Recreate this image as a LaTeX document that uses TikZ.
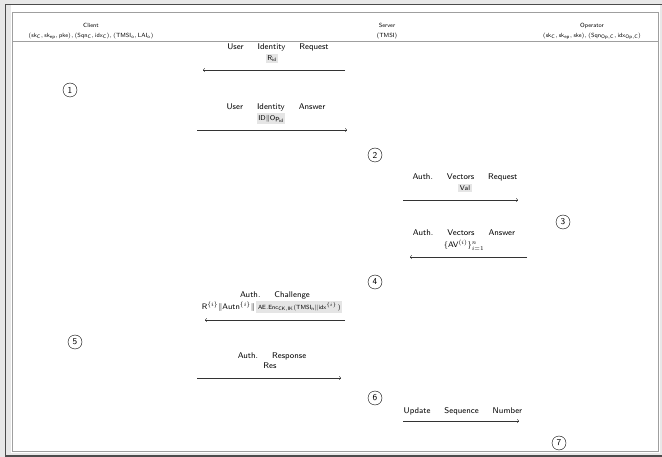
\documentclass[tikz,border=0pt]{standalone}
\usepackage{amsmath}
\begin{document}
\begin{tikzpicture}[x=1pt,y=-1pt,
  hdr/.style={font=\fontsize{6}{7}\selectfont\sffamily, inner sep=0pt, anchor=mid},
  lbl/.style={font=\fontsize{8.3}{10}\selectfont\sffamily, inner sep=0pt, anchor=mid},
  val/.style={font=\fontsize{7}{8}\selectfont\sffamily, fill=gray!20, inner sep=1.6pt, anchor=mid},
  stepno/.style={draw, circle, thin, inner sep=0.6pt, minimum size=14pt, font=\fontsize{9}{10}\selectfont\sffamily},
  msg/.style={->, >=to, line width=0.45pt, black!80}
]
\useasboundingbox (0,0) rectangle (662,457);
% window backdrop and frames
\fill[gray!18] (0,0) rectangle (662,457);
\fill[white] (11,5) rectangle (660,453);
\draw[gray!60!black, line width=1.5pt] (5.5,457) -- (5.5,4.5) -- (662,4.5);
\draw[gray!60!black, line width=1.5pt] (5,455.8) -- (662,455.8);
\draw[gray!75, line width=0.8pt] (12,12) rectangle (658,451);
\draw[gray!75, line width=0.7pt] (12,41) -- (658,41);

\newcommand{\wsp}{\hskip 14pt}

% parties
\node[hdr] (client) at (91,25) {Client};
\node[hdr] (clientkeys) at (91,35) {$(\mathsf{sk}_{\mathsf{C}},\mathsf{sk}_{\mathsf{ep}},\mathsf{pke}),(\mathsf{Sqn}_{\mathsf{C}},\mathsf{idx}_{\mathsf{C}}),(\mathsf{TMSI}_{\mathsf{o}},\mathsf{LAI}_{\mathsf{o}})$};
\node[hdr] (server) at (387,25) {Server};
\node[hdr] (serverkeys) at (387,35) {(TMSI)};
\node[hdr] (operator) at (592,25) {Operator};
\node[hdr] (operatorkeys) at (592,35) {$(\mathsf{sk}_{\mathsf{C}},\mathsf{sk}_{\mathsf{ep}},\mathsf{ske}),(\mathsf{Sqn}_{\mathsf{Op,C}},\mathsf{idx}_{\mathsf{Op,C}})$};

% 1: user identity request
\node[lbl] (m1) at (278,47) {User\wsp Identity\wsp Request};
\node[val] (m1v) at (272,58) {$\mathsf{R}_{\mathsf{id}}$};
\coordinate (m1a) at (345,70);
\coordinate (m1b) at (203,70);
\draw[msg] (m1a) -- (m1b);

\node[stepno] (s1) at (70,90) {1};

% 2: user identity answer
\node[lbl] (m2) at (276,107) {User\wsp Identity\wsp Answer};
\node[val] (m2v) at (271,118) {$\mathsf{ID}\|\mathsf{Op}_{\mathsf{id}}$};
\coordinate (m2a) at (197,130);
\coordinate (m2b) at (347,130);
\draw[msg] (m2a) -- (m2b);

\node[stepno] (s2) at (375,155) {2};

% 3: authentication vectors request
\node[lbl] (m3) at (465,177) {Auth.\wsp Vectors\wsp Request};
\node[val] (m3v) at (465,188) {Val};
\coordinate (m3a) at (403,200);
\coordinate (m3b) at (518,200);
\draw[msg] (m3a) -- (m3b);

\node[stepno] (s3) at (563,222) {3};

% 4: authentication vectors answer
\node[lbl] (m4) at (464,233) {Auth.\wsp Vectors\wsp Answer};
\node[lbl] (m4v) at (464,245.5) {$\{\mathsf{AV}^{(i)}\}_{i=1}^{n}$};
\coordinate (m4a) at (527,257);
\coordinate (m4b) at (410,257);
\draw[msg] (m4a) -- (m4b);

\node[stepno] (s4) at (375,282) {4};

% 5: authentication challenge
\node[lbl] (m5) at (275,295) {Auth.\wsp Challenge};
\node[lbl] (m5v) at (272,307) {$\mathsf{R}^{\{i\}}\|\mathsf{Autn}^{\{i\}}\|$\,\setlength{\fboxsep}{1.6pt}\colorbox{gray!20}{\fontsize{6.5}{7}\selectfont$\mathsf{AE.Enc}_{\mathsf{CK,IK}}(\mathsf{TMSI}_{\mathsf{n}}\|\mathsf{idx}^{\{i\}}$\,)}};
\coordinate (m5a) at (345,320);
\coordinate (m5b) at (205,320);
\draw[msg] (m5a) -- (m5b);

\node[stepno] (s5) at (75,342) {5};

% 6: authentication response
\node[lbl] (m6) at (272,356) {Auth.\wsp Response};
\node[lbl] (m6v) at (270,366) {Res};
\coordinate (m6a) at (197,378);
\coordinate (m6b) at (341,378);
\draw[msg] (m6a) -- (m6b);

\node[stepno] (s6) at (375,398) {6};

% 7: sequence number update
\node[lbl] (m7) at (463,411) {Update\wsp Sequence\wsp Number};
\coordinate (m7a) at (403,421);
\coordinate (m7b) at (519,421);
\draw[msg] (m7a) -- (m7b);

\node[stepno] (s7) at (559,443) {7};
\end{tikzpicture}
\end{document}
